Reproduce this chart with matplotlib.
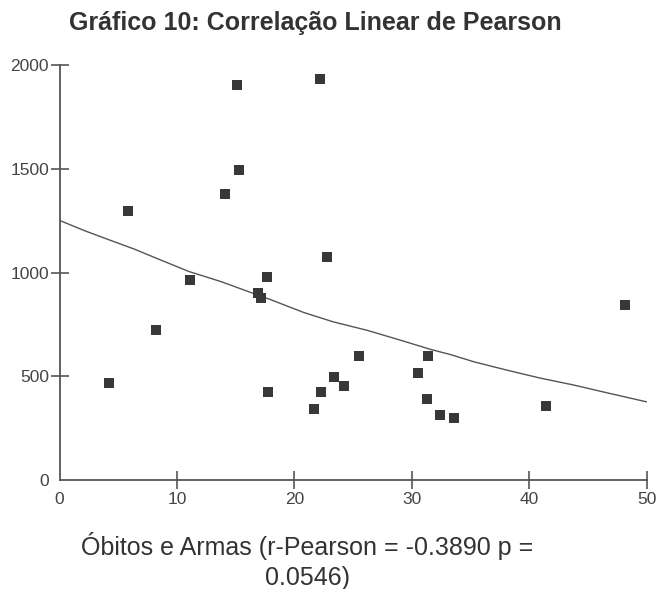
import matplotlib
matplotlib.use("Agg")
import matplotlib.pyplot as plt

plt.rcParams['font.family'] = ['Liberation Sans', 'DejaVu Sans']

# scatter points (x = armas, y = obitos)
armas = [15.1, 22.2, 15.3, 14.1, 5.8, 22.8, 11.1, 17.7, 16.9, 17.2,
         8.2, 4.2, 17.8, 22.3, 21.7, 48.2, 25.5, 31.4, 30.5, 23.4,
         24.2, 31.3, 32.4, 33.6, 41.4]
obitos = [1905, 1932, 1495, 1381, 1295, 1076, 964, 977, 900, 876,
          723, 466, 424, 424, 342, 843, 599, 596, 517, 496,
          453, 390, 315, 299, 355]

# trend curve
trend_x = [0, 2.2, 3.9, 6.4, 8.1, 11.0, 13.8, 16.5, 17.7, 20.8, 23.3,
           26.2, 29.0, 31.6, 33.3, 35.3, 38.1, 40.9, 43.8, 46.6, 50]
trend_y = [1252, 1201, 1165, 1113, 1073, 1006, 956, 900, 876, 808, 763,
           722, 675, 630, 605, 570, 530, 492, 458, 421, 377]

xticks = [0, 10, 20, 30, 40, 50]
yticks = [0, 500, 1000, 1500, 2000]

fig = plt.figure(figsize=(6.58, 5.89), dpi=100)
ax = fig.add_axes([59.5 / 658, 109 / 589, 587 / 658, 414.7 / 589])

ax.plot(trend_x, trend_y, color='#555555', linewidth=1.0, zorder=2)
ax.plot(armas, obitos, linestyle='none', marker='s', markersize=7.2,
        color='#383838', markeredgewidth=0, zorder=3)

ax.set_xlim(0, 50)
ax.set_ylim(0, 2000)
ax.set_xticks(xticks)
ax.set_yticks(yticks)
ax.tick_params(direction='inout', length=13, width=1.2, color='#555555',
               labelsize=12.5, labelcolor='#444444')
ax.tick_params(axis='x', pad=2)
ax.tick_params(axis='y', pad=1)
ax.xaxis.get_major_ticks()[0].tick1line.set_visible(False)
ax.yaxis.get_major_ticks()[0].tick1line.set_visible(False)

for side in ['top', 'right']:
    ax.spines[side].set_visible(False)
for side in ['left', 'bottom']:
    ax.spines[side].set_color('#555555')
    ax.spines[side].set_linewidth(1.3)

fig.text(315 / 658, 1 - 23 / 589, 'Gráfico 10: Correlação Linear de Pearson',
         ha='center', va='center', fontsize=18, fontweight='bold', color='#333333')
fig.text(307 / 658, 1 - 561 / 589,
         'Óbitos e Armas (r-Pearson = -0.3890 p =\n0.0546)',
         ha='center', va='center', multialignment='center', fontsize=18,
         color='#333333', linespacing=1.28)

fig.savefig('out.png', dpi=100)
